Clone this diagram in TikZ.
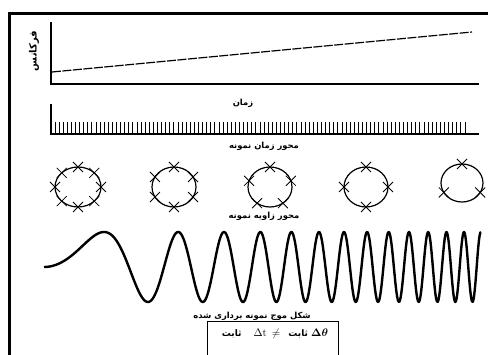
\documentclass[tikz,border=0pt]{standalone}
\usepackage{fontspec}
\usetikzlibrary{calc}
\newfontfamily\ar[Script=Arabic]{DejaVu Sans}
\TeXXeTstate=1
\begin{document}
\begin{tikzpicture}[x=1pt,y=-1pt,
  frame/.style={line width=3pt},
  axis/.style={line width=1.3pt},
  tickline/.style={line width=0.9pt},
  circ/.style={line width=1.2pt},
  xmark/.style={line width=0.8pt},
  wave/.style={line width=2.4pt,line join=round},
  lab/.style={font=\ar\bfseries\fontsize{8.4}{10}\selectfont,inner sep=0pt}]
\useasboundingbox (0,0) rectangle (488,355);
\clip (0,0) rectangle (488,355);
% frame
\coordinate (fbl) at (9.5,360);
\coordinate (ftl) at (9.5,13.5);
\coordinate (ftr) at (495,13.5);
\draw[frame] (fbl) -- (ftl) -- (ftr);
% frequency graph
\coordinate (yt) at (51,22);
\coordinate (o) at (51,84);
\coordinate (xr) at (479,84);
\draw[axis] (yt) -- (o) -- (xr);
\coordinate (ls) at (52,72);
\coordinate (le) at (472,32);
\draw[line width=1.2pt,dash pattern=on 9pt off 1.5pt] (ls) -- (le);
\node[lab,font=\ar\bfseries\fontsize{10}{12}\selectfont,rotate=90] (freq) at (34,51) {\beginR فرکانس\endR};
\node[lab] (time) at (243,103) {\beginR زمان\endR};
% sampled time axis
\coordinate (tt) at (51,104);
\coordinate (to) at (51,134);
\coordinate (tr) at (479,134);
\draw[axis] (tt) -- (to) -- (tr);
\foreach \i in {0,...,100} \draw[tickline] ({55+\i*4.1},122) -- ++(0,12);
\node[lab] (tlab) at (264,146) {\beginR محور زمان نمونه\endR};
% angle circles
\foreach \cx/\cy/\rx/\ry/\n/\s in {78/187/23/20/8/0, 174/187/22/20/6/30, 270/187/22/20/5/18, 366/187/22/20/4/0, 462/183/21/19/3/-30}{
  \draw[circ] (\cx,\cy) ellipse[x radius=\rx, y radius=\ry];
  \pgfmathtruncatemacro{\last}{\n-1}
  \foreach \k in {0,...,\last}{
    \pgfmathsetmacro{\ang}{\s+\k*360/\n}
    \coordinate (p) at ({\cx+\rx*cos(\ang)},{\cy-\ry*sin(\ang)});
    \draw[xmark] ($(p)+(-5,-5)$) -- ($(p)+(5,5)$);
    \draw[xmark] ($(p)+(-5,5)$) -- ($(p)+(5,-5)$);
  }
}
\node[lab] (alab) at (264,216) {\beginR محور زاویه نمونه\endR};
% chirp
\draw[wave] plot[domain=0:437,samples=700] ({\x+44},{267-35*sin(deg(4.3633*(\x/100)*(\x/100)))});
\node[lab] (wlab) at (252,316) {\beginR شکل موج نمونه برداری شده\endR};
% box
\coordinate (bl) at (207,360);
\coordinate (btl) at (207,321);
\coordinate (btr) at (338,321);
\coordinate (br) at (338,360);
\draw[line width=0.8pt] (bl) -- (btl) -- (btr) -- (br);
\node[inner sep=0pt] (eq) at (275,334) {{\ar\bfseries\fontsize{9}{10}\selectfont\beginR ثابت\endR}\hspace{12pt}{\fontsize{11}{12}\selectfont$\Delta\mathrm{t}$\hspace{5pt}$\neq$}\hspace{8pt}{\ar\bfseries\fontsize{9}{10}\selectfont\beginR ثابت\endR}\hspace{3pt}{\fontsize{11}{12}\selectfont\mathversion{bold}$\Delta\theta$}};
\end{tikzpicture}
\end{document}
